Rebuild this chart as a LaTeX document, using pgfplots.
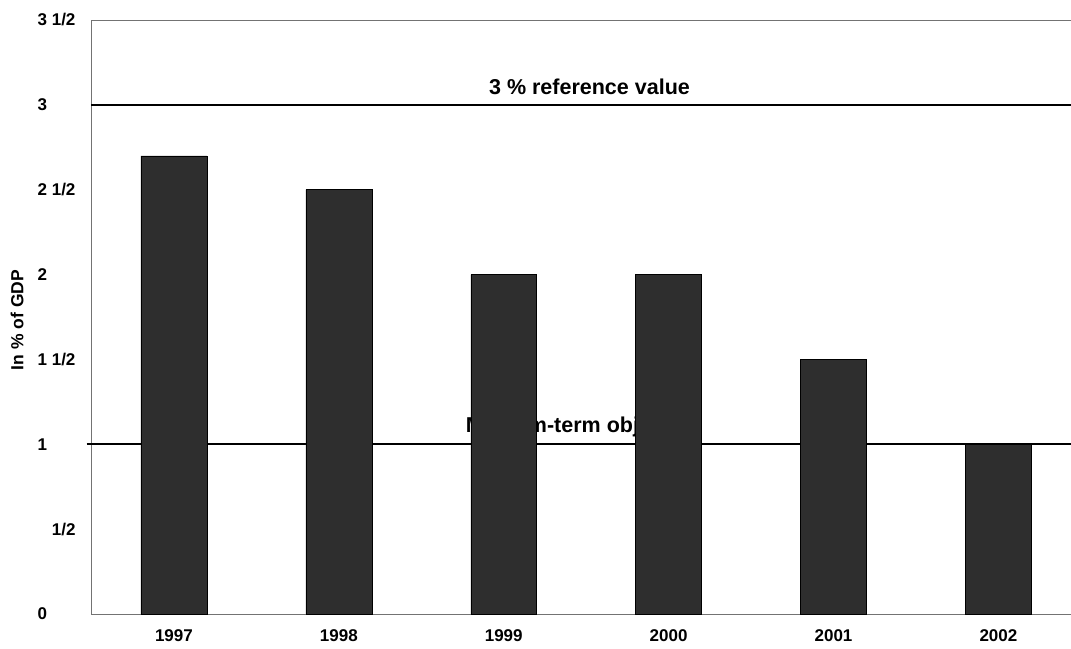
\documentclass[border=0pt]{standalone}
\usepackage{fontspec}
\setmainfont{Liberation Sans}
\usepackage{pgfplots}
\pgfplotsset{compat=1.18}
\begin{document}
\begin{tikzpicture}
\begin{axis}[
  scale only axis,
  width=980pt, height=594pt,
  xmin=-0.503, xmax=5.44,
  ymin=0, ymax=3.5,
  axis line style={draw=black!55, line width=0.7pt},
  major tick length=0pt,
  xtick={0,1,2,3,4,5},
  xticklabels={1997,1998,1999,2000,2001,2002},
  ytick={0,0.5,1,1.5,2,2.5,3,3.5},
  yticklabels={0\phantom{\ 1/2},\phantom{0\ }1/2,1\phantom{\ 1/2},1 1/2,2\phantom{\ 1/2},2 1/2,3\phantom{\ 1/2},3 1/2},
  /pgf/number format/assume math mode=true,
  ticklabel style={font=\fontsize{17}{19}\selectfont\bfseries},
  yticklabel style={anchor=east, xshift=-12pt},
  xticklabel style={anchor=north, yshift=-12pt},
  ylabel={In \% of GDP},
  every axis y label/.style={at={([xshift=-74pt,yshift=-3pt]axis description cs:0,0.5)}, rotate=90, anchor=center, font=\fontsize{17.5}{19}\selectfont\bfseries},
  clip=false,
]
\node[anchor=base, font=\fontsize{21.5}{24}\selectfont\bfseries, inner sep=0pt] at (axis cs:2.52,3.06) {3 \% reference value};
\node[anchor=base, font=\fontsize{21.5}{24}\selectfont\bfseries, inner sep=0pt] at (axis cs:2.48,1.067) {Medium-term objective};
\addplot[black, line width=1.6pt] coordinates {(-0.503,3) (5.44,3)};
\addplot[black, line width=1.6pt] coordinates {(-0.53,1) (5.44,1)};
\addplot[ybar, bar width=0.4, fill=black!82, draw=black, line width=0.5pt] coordinates {
  (0,2.7) (1,2.5) (2,2.0) (3,2.0) (4,1.5) (5,1.0)
};
\end{axis}
\pgfresetboundingbox
\path[use as bounding box] (-91pt,-34pt) rectangle (980pt,614pt);
\end{tikzpicture}
\end{document}
